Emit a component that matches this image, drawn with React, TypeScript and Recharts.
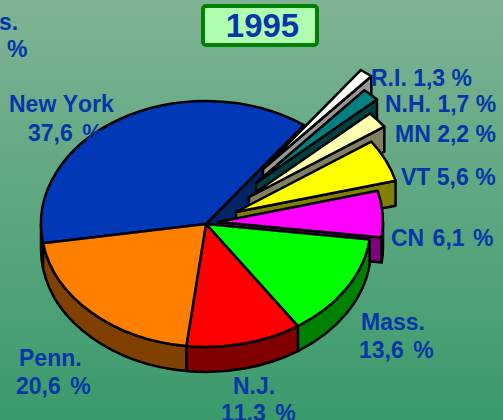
import React from "react";
import { PieChart, Pie } from "recharts";

const states = ["New York", "R.I.", "N.H.", "MN", "VT", "CN", "Mass.", "N.J.", "Penn."];
const shares = [37.6, 1.3, 1.7, 2.2, 5.6, 6.1, 13.6, 11.3, 20.6];
const chartTitle = "1995";

const topColors = ["#0038b8", "#ffffff", "#008080", "#ffffb0", "#ffff00", "#ff00ff", "#00ff00", "#ff0000", "#ff8000"];
const sideColors = ["#002468", "#969696", "#004040", "#808060", "#808000", "#800080", "#008000", "#800000", "#804000"];
const explodeX = [0, 57, 50, 43, 30, 12, 0, 0, 0];
const explodeY = [0, -55, -41, -27, -12, -2, 0, 0, 0];

type LabelPos = { x: number; y: number; x2: number; y2: number; ws: number };
const labelPos: LabelPos[] = [
  { x: 9, y: 112, x2: 28, y2: 141, ws: 3 },
  { x: 371, y: 86, x2: -1, y2: 0, ws: 0 },
  { x: 385, y: 112, x2: -1, y2: 0, ws: 0 },
  { x: 395, y: 142, x2: -1, y2: 0, ws: 0 },
  { x: 401, y: 185, x2: -1, y2: 0, ws: 0 },
  { x: 391, y: 246, x2: -1, y2: 0, ws: 2 },
  { x: 361, y: 330, x2: 359, y2: 358, ws: 3 },
  { x: 233, y: 394, x2: 221, y2: 421, ws: 3 },
  { x: 19, y: 366, x2: 16, y2: 394, ws: 3 },
];

const SQUASH = 0.745;
const DEPTH = 25;
const rad = (d: number) => (d * Math.PI) / 180;
const fmt = (v: number) => v.toFixed(1).replace(".", ",") + " %";

const data = states.map((name, i) => ({ name, value: shares[i] }));

function SliceShape(props: any) {
  const { cx, cy, outerRadius: r, startAngle, endAngle, name, payload } = props;
  const i = states.indexOf(name ?? payload?.name);
  const ox = cx + explodeX[i];
  const oy = cy + explodeY[i];
  const rx = r;
  const ry = r * SQUASH;
  const hi = Math.max(startAngle, endAngle);
  const lo = Math.min(startAngle, endAngle);
  const px = (a: number) => ox + rx * Math.cos(rad(a));
  const py = (a: number, dz = 0) => oy - ry * Math.sin(rad(a)) + dz;
  const common = { stroke: "#000", strokeWidth: 2.5, strokeLinejoin: "round" as const };

  const faces: React.ReactNode[] = [];
  // radial wall on the clockwise edge
  if (Math.cos(rad(lo)) > 0) {
    faces.push(
      <path
        key="wall"
        d={`M${ox},${oy} L${px(lo)},${py(lo)} L${px(lo)},${py(lo, DEPTH)} L${ox},${oy + DEPTH} Z`}
        fill={sideColors[i]}
        {...common}
      />
    );
  }
  // outer rim: the part of the arc facing the viewer
  [[-180, 0], [180, 360]].forEach(([a, b], k) => {
    const s = Math.max(lo, a);
    const e = Math.min(hi, b);
    if (e > s) {
      const large = e - s > 180 ? 1 : 0;
      faces.push(
        <path
          key={`rim${k}`}
          d={`M${px(e)},${py(e)} A${rx},${ry} 0 ${large} 1 ${px(s)},${py(s)} L${px(s)},${py(s, DEPTH)} A${rx},${ry} 0 ${large} 0 ${px(e)},${py(e, DEPTH)} Z`}
          fill={sideColors[i]}
          {...common}
        />
      );
    }
  });
  const large = hi - lo > 180 ? 1 : 0;
  return (
    <g>
      {faces}
      <path
        d={`M${ox},${oy} L${px(hi)},${py(hi)} A${rx},${ry} 0 ${large} 1 ${px(lo)},${py(lo)} Z`}
        fill={topColors[i]}
        {...common}
      />
    </g>
  );
}

const BLUE = "#0537a8";
const textStyle = {
  fontFamily: "'Liberation Sans', Arial, sans-serif",
  fontWeight: 700,
  fontSize: 23,
  fontKerning: "none" as const,
  fill: BLUE,
};
const htmlText = {
  fontFamily: "'Liberation Sans', Arial, sans-serif",
  fontWeight: 700,
  fontSize: 23,
  color: BLUE,
};

function SliceLabel(props: any) {
  const name = props.name ?? props.payload?.name;
  const i = states.indexOf(name);
  const p = labelPos[i];
  const text = fmt(shares[i]);
  if (p.x2 < 0) {
    return (
      <text x={p.x} y={p.y} style={{ ...textStyle, wordSpacing: p.ws }}>
        {`${name} ${text}`}
      </text>
    );
  }
  return (
    <g>
      <text x={p.x} y={p.y} style={textStyle}>{name}</text>
      <text x={p.x2} y={p.y2} style={{ ...textStyle, wordSpacing: p.ws }}>{text}</text>
    </g>
  );
}

export default function App() {
  return (
    <div
      style={{
        position: "fixed",
        left: 0,
        top: 0,
        width: 503,
        height: 420,
        overflow: "hidden",
        background: "linear-gradient(180deg, #7fb393 0%, #3a9a6c 100%)",
      }}
    >
      <PieChart width={503} height={420} margin={{ top: 0, right: 0, bottom: 0, left: 0 }}>
        <Pie
          data={data}
          dataKey="value"
          nameKey="name"
          cx={206}
          cy={224}
          innerRadius={0}
          outerRadius={165}
          startAngle={189}
          endAngle={-171}
          paddingAngle={0}
          isAnimationActive={false}
          labelLine={false}
          label={SliceLabel}
          shape={SliceShape}
        />
      </PieChart>
      <div
        style={{
          position: "absolute",
          left: 201,
          top: 4,
          width: 118,
          height: 43,
          boxSizing: "border-box",
          paddingLeft: 5,
          background: "#b0ffb0",
          border: "4px solid #008000",
          borderRadius: 5,
          textAlign: "center",
          fontFamily: "'Liberation Sans', Arial, sans-serif",
          fontWeight: 700,
          fontSize: 33,
          lineHeight: "35px",
          color: BLUE,
        }}
      >
        {chartTitle}
      </div>
      <div style={{ position: "absolute", left: -1, top: 9, ...htmlText }}>s.</div>
      <div style={{ position: "absolute", left: 7, top: 36, ...htmlText }}>%</div>
    </div>
  );
}
